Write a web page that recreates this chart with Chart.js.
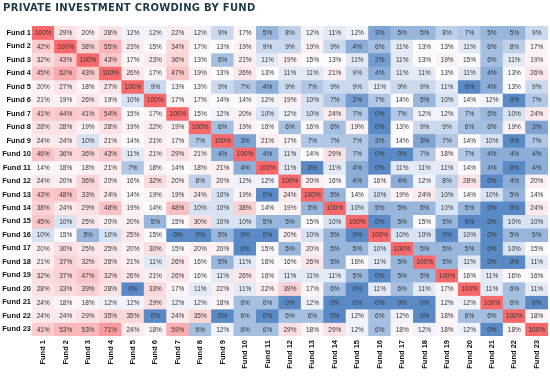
<!DOCTYPE html>
<html><head><meta charset="utf-8">
<script src="https://cdn.jsdelivr.net/npm/chart.js@4.4.0/dist/chart.umd.min.js"></script>
<style>html,body{margin:0;padding:0;background:#fff;}#wrap{width:550px;height:376px;position:relative;}</style>
</head><body><div id="wrap"><canvas id="c"></canvas></div>
<script>
const chartTitle = "PRIVATE INVESTMENT CROWDING BY FUND";
const funds = ["Fund 1","Fund 2","Fund 3","Fund 4","Fund 5","Fund 6","Fund 7","Fund 8","Fund 9","Fund 10","Fund 11","Fund 12","Fund 13","Fund 14","Fund 15","Fund 16","Fund 17","Fund 18","Fund 19","Fund 20","Fund 21","Fund 22","Fund 23"];
const fund01 = [100,29,20,28,12,12,22,12,9,17,5,8,12,11,12,3,5,5,8,7,5,5,9];
const fund02 = [42,100,38,55,23,15,34,17,13,19,9,9,19,9,4,6,11,13,13,11,6,8,17];
const fund03 = [32,43,100,43,17,23,36,13,6,21,11,19,15,13,11,2,11,13,19,15,6,11,19];
const fund04 = [45,62,43,100,26,17,47,19,13,26,13,11,11,21,9,4,11,11,13,11,4,13,26];
const fund05 = [20,27,18,27,100,9,13,13,9,7,4,9,7,9,9,11,9,9,11,0,4,13,9];
const fund06 = [21,19,26,19,10,100,17,17,14,14,12,19,10,7,2,7,14,5,10,14,12,0,7];
const fund07 = [41,44,41,54,15,17,100,15,12,20,10,12,10,24,7,0,7,12,12,7,5,10,24];
const fund08 = [28,28,19,28,19,22,19,100,6,19,16,6,16,6,19,0,13,9,9,6,6,19,3];
const fund09 = [24,24,10,21,14,21,17,7,100,3,21,17,7,7,7,3,14,3,7,14,10,0,7];
const fund10 = [46,36,36,43,11,21,29,21,4,100,4,11,14,29,7,0,0,7,18,7,4,4,4];
const fund11 = [14,18,18,21,7,18,14,18,21,4,100,11,0,11,4,0,11,11,11,14,4,0,4];
const fund12 = [24,20,36,20,16,32,20,8,20,12,12,100,20,16,4,16,4,12,8,28,0,4,20];
const fund13 = [43,48,33,24,14,19,19,24,10,19,0,24,100,5,14,10,19,24,10,14,10,5,14];
const fund14 = [38,24,29,48,19,14,48,10,10,38,14,19,5,100,10,5,5,5,10,5,0,0,24];
const fund15 = [45,10,25,20,20,5,15,30,10,10,5,5,15,10,100,0,5,15,5,0,0,10,10];
const fund16 = [10,15,5,10,25,15,0,0,5,0,0,20,10,5,0,100,10,10,0,10,0,5,5];
const fund17 = [20,30,25,25,20,30,15,20,20,0,15,5,20,5,5,10,100,5,5,5,0,10,15];
const fund18 = [21,37,32,26,21,11,26,16,5,11,16,16,26,5,16,11,5,100,5,11,0,0,11];
const fund19 = [32,37,47,32,26,21,26,16,11,26,16,11,11,11,5,0,5,5,100,16,11,16,16];
const fund20 = [28,33,39,28,0,33,17,11,22,11,22,39,17,6,0,11,6,11,17,100,11,6,11];
const fund21 = [24,18,18,12,12,29,12,12,18,6,6,0,12,0,0,0,0,0,12,12,100,6,0];
const fund22 = [24,24,29,35,35,0,24,35,0,6,0,6,6,0,12,6,12,0,18,6,6,100,18];
const fund23 = [41,53,53,71,24,18,59,6,12,6,6,29,18,29,12,6,18,12,18,12,0,18,100];
const matrix = [fund01,fund02,fund03,fund04,fund05,fund06,fund07,fund08,fund09,fund10,fund11,fund12,fund13,fund14,fund15,fund16,fund17,fund18,fund19,fund20,fund21,fund22,fund23];

const all = matrix.flat().slice().sort((a,b)=>a-b);
const vMin = all[0], vMax = all[all.length-1];
const pos = (all.length-1)*0.5, lo = Math.floor(pos);
const vMid = all[lo] + (all[Math.ceil(pos)]-all[lo])*(pos-lo);
const BLUE=[90,138,198], WHITE=[252,252,255], RED=[248,105,107];
function colorFor(v){
  let a,b,t;
  if (v<=vMid){a=BLUE;b=WHITE;t=(v-vMin)/(vMid-vMin||1);} else {a=WHITE;b=RED;t=(v-vMid)/(vMax-vMid||1);}
  const c=a.map((x,k)=>Math.round(x+(b[k]-x)*t));
  return `rgb(${c[0]},${c[1]},${c[2]})`;
}

const datasets = matrix.map((row,i)=>({
  label: funds[i],
  data: row.map(()=>[i,i+1]),
  values: row,
  backgroundColor: row.map(colorFor),
  borderWidth: 0,
  barPercentage: 1,
  categoryPercentage: 1,
  grouped: false
}));

const labelFont = {family:'"Liberation Sans", Arial, sans-serif', size:7.5, weight:'bold'};

const cellText = {
  id:'cellText',
  afterDatasetsDraw(chart){
    const ctx=chart.ctx; ctx.save();
    ctx.font='6.5px "Liberation Sans", Arial, sans-serif';
    ctx.fillStyle='#333'; ctx.textAlign='center'; ctx.textBaseline='middle';
    chart.data.datasets.forEach((ds,i)=>{
      chart.getDatasetMeta(i).data.forEach((el,j)=>{
        const p=el.getProps(['x','y','base'],true);
        ctx.fillText(ds.values[j]+'%', p.x, (p.y+p.base)/2+0.5);
      });
    });
    ctx.restore();
  }
};
const titlePlugin = {
  id:'titleText',
  afterDraw(chart){
    const ctx=chart.ctx; ctx.save();
    ctx.font='bold 10px "DejaVu Sans", sans-serif';
    try{ctx.letterSpacing='0.3px';}catch(e){}
    ctx.fillStyle='#1d3a47'; ctx.textAlign='left'; ctx.textBaseline='alphabetic';
    ctx.fillText(chartTitle, 3, 11);
    ctx.restore();
  }
};

new Chart(document.getElementById('c'), {
  type:'bar',
  data:{labels:funds, datasets},
  options:{
    responsive:true, maintainAspectRatio:false, animation:false,
    layout:{padding:{top:26,right:2,left:0,bottom:0}},
    plugins:{legend:{display:false}, tooltip:{enabled:false}, title:{display:false}},
    scales:{
      x:{type:'category', offset:true, grid:{display:false,drawTicks:false}, border:{display:false},
         ticks:{minRotation:90,maxRotation:90,autoSkip:false,font:labelFont,color:'#111',padding:4},
         afterFit(s){s.height=40;}},
      y:{type:'linear', min:0, max:23, reverse:true, grid:{display:false,drawTicks:false}, border:{display:false},
         afterBuildTicks(s){s.ticks=funds.map((f,i)=>({value:i+0.5}));},
         ticks:{autoSkip:false,font:labelFont,color:'#111',padding:1,callback:(v,idx)=>funds[idx]},
         afterFit(s){s.width=32;}}
    }
  },
  plugins:[cellText,titlePlugin]
});
</script></body></html>
